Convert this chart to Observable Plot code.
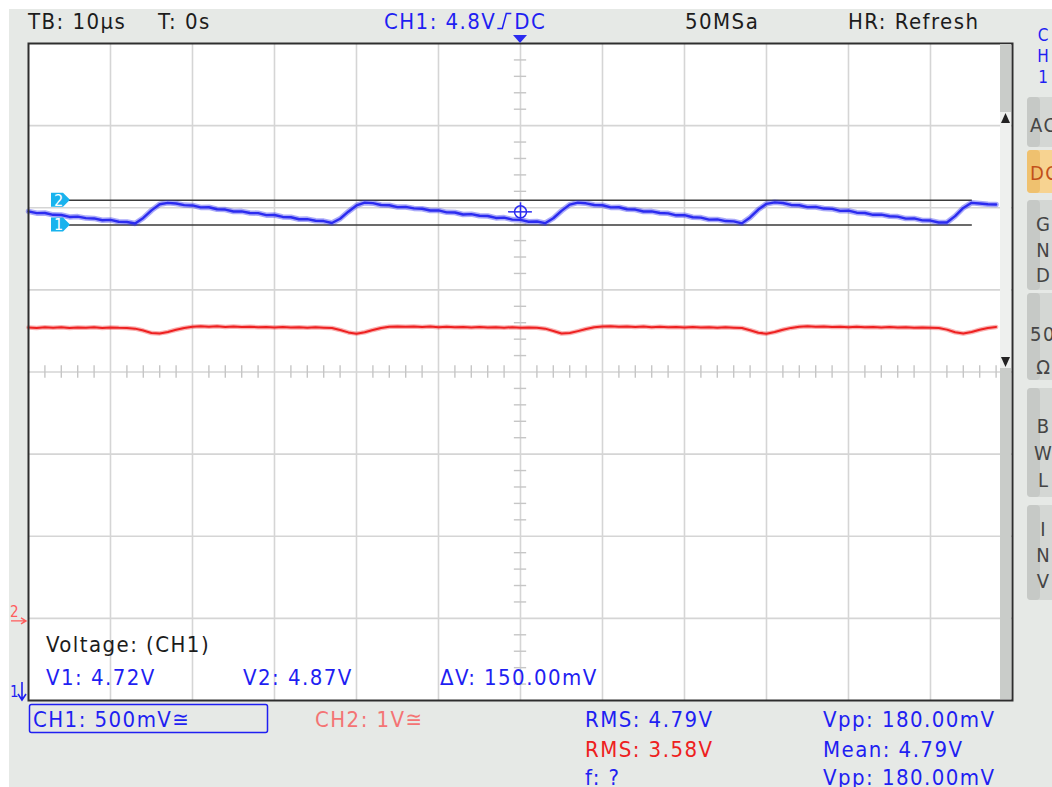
<!DOCTYPE html>
<html><head><meta charset="utf-8">
<script src="https://cdn.jsdelivr.net/npm/d3@7"></script>
<script src="https://cdn.jsdelivr.net/npm/@observablehq/plot@0.6"></script>
<style>
html,body{margin:0;padding:0;background:#fff;}
#scope{position:relative;width:1052px;height:787px;overflow:hidden;background:#fff;}
#panel{position:absolute;left:9px;top:9px;right:0;bottom:0;background:#e6e9e6;}
#scope svg{position:absolute;left:0;top:0;}
</style></head><body><div id="scope"><div id="panel"></div></div>
<script>
// ---- data ----
const sampleTimesUs = [-60,-59,-58,-57,-56,-55,-54,-53,-52,-51,-50,-49,-48,-47,-46,-45,-44,-43,-42,-41,-40,-39,-38,-37,-36,-35,-34,-33,-32,-31,-30,-29,-28,-27,-26,-25,-24,-23,-22,-21,-20,-19,-18,-17,-16,-15,-14,-13,-12,-11,-10,-9,-8,-7,-6,-5,-4,-3,-2,-1,0,1,2,3,4,5,6,7,8,9,10,11,12,13,14,15,16,17,18,19,20,21,22,23,24,25,26,27,28,29,30,31,32,33,34,35,36,37,38,39,40,41,42,43,44,45,46,47,48,49,50,51,52,53,54,55,56,57,58];
const ch1Volts = [4.803,4.792,4.793,4.782,4.781,4.769,4.771,4.762,4.760,4.749,4.751,4.740,4.738,4.729,
 4.763,4.809,4.846,4.855,
 4.851,4.841,4.839,4.827,4.828,4.816,4.814,4.802,4.803,4.793,4.792,4.780,4.781,4.769,4.767,4.755,4.756,4.746,4.744,4.732,
 4.758,4.801,4.839,4.856,
 4.853,4.842,4.840,4.829,4.830,4.821,4.819,4.808,4.809,4.797,4.796,4.784,4.786,4.776,4.775,4.763,4.765,4.753,4.751,4.740,4.741,4.731,
 4.761,4.806,4.844,4.856,
 4.852,4.842,4.840,4.827,4.828,4.816,4.814,4.802,4.803,4.793,4.791,4.779,4.780,4.767,4.765,4.753,4.754,4.744,4.742,4.730,
 4.766,4.814,4.849,4.858,
 4.854,4.842,4.840,4.829,4.830,4.820,4.818,4.806,4.807,4.795,4.793,4.782,4.783,4.773,4.771,4.759,4.760,4.748,4.747,4.735,4.735,
 4.774,4.824,4.855,4.851,4.846,4.845];
const ch2Volts = [3.543,3.537,3.545,3.539,3.544,3.536,3.543,3.540,3.545,3.537,3.542,3.538,3.537,3.528,3.505,3.474,3.470,3.488,3.515,3.536,3.551,3.556,
 3.551,3.556,3.549,3.553,3.547,3.551,3.545,3.549,3.543,3.547,3.541,3.546,3.540,3.544,3.539,3.535,3.512,3.482,3.467,3.484,3.512,3.536,3.550,3.555,
 3.550,3.555,3.548,3.553,3.546,3.551,3.545,3.549,3.543,3.548,3.541,3.546,3.540,3.545,3.539,3.543,3.538,3.528,3.500,3.469,3.474,3.498,3.524,3.544,3.553,
 3.556,3.550,3.555,3.548,3.553,3.546,3.551,3.545,3.549,3.543,3.548,3.541,3.546,3.540,3.544,3.539,3.536,3.508,3.478,3.467,3.486,3.514,3.537,3.551,
 3.556,3.550,3.554,3.548,3.552,3.546,3.550,3.544,3.548,3.542,3.547,3.541,3.545,3.539,3.543,3.540,3.537,3.516,3.484,3.469,3.486,3.514,3.535,3.549];

const ch1CenterVolts = 3.825, ch1VoltsPerDiv = 0.5;
const ch2GroundDiv = -3, ch2VoltsPerDiv = 1;
const timeWindowUs = [-60, 60];
const screenDivs = [-4, 4];
const cursorV1 = 4.72, cursorV2 = 4.87;
const cursorSpanUs = [-55, 55.1];
const triggerTimeUs = 0, triggerLevelV = 4.8;
const xGridUs = [-50,-40,-30,-20,-10,0,10,20,30,40,50];
const yGridDiv = [-3,-2,-1,0,1,2,3];

const headerLabels = ["TB: 10µs", "T: 0s", "CH1: " + triggerLevelV + "V", "DC", "50MSa", "HR: Refresh"];
const cursorTitle = "Voltage: (CH1)";
const ch1ScaleLabel = "CH1: 500mV≅", ch2ScaleLabel = "CH2: 1V≅";
const measureCol1 = ["RMS: 4.79V", "RMS: 3.58V", "f: ?"];
const measureCol2 = ["Vpp: 180.00mV", "Mean: 4.79V", "Vpp: 180.00mV"];
const sideTitle = ["C", "H", "1"];
const sideButtons = [["AC"], ["DC"], ["G","N","D"], ["50","Ω"], ["B","W","L"], ["I","N","V"]];

// ---- helpers ----
const toDiv1 = v => (v - ch1CenterVolts) / ch1VoltsPerDiv;
const toDiv2 = v => v / ch2VoltsPerDiv + ch2GroundDiv;
const ch1 = sampleTimesUs.map((t, i) => ({t, d: toDiv1(ch1Volts[i])}));
const ch2 = sampleTimesUs.map((t, i) => ({t, d: toDiv2(ch2Volts[i])}));
const minorX = d3.range(-29, 30).filter(i => i % 5 !== 0).map(i => i * 2);
const minorY = d3.range(-19, 20).filter(i => i % 5 !== 0).map(i => i / 5);
const trig = {t: triggerTimeUs, d: toDiv1(triggerLevelV)};

const BLUE = "#2b2bf0", RED = "#ee2020", TXTBLUE = "#1f1ff2";

const plot = Plot.plot({
  width: 1052, height: 787,
  marginLeft: 28, marginRight: 40, marginTop: 43, marginBottom: 87,
  x: {domain: timeWindowUs, axis: null},
  y: {domain: screenDivs, axis: null},
  style: {background: "transparent", overflow: "visible"},
  marks: [
    Plot.frame({fill: "#ffffff", stroke: null}),
    Plot.ruleX(xGridUs, {stroke: "#d5d5d5", strokeWidth: 1.6}),
    Plot.ruleY(yGridDiv, {stroke: "#d5d5d5", strokeWidth: 1.6}),
    Plot.ruleX(minorX, {y1: -0.075, y2: 0.075, stroke: "#c6c6c6", strokeWidth: 1.4}),
    Plot.ruleY(minorY, {x1: -0.75, x2: 0.75, stroke: "#c6c6c6", strokeWidth: 1.4}),
    Plot.ruleY([cursorV1, cursorV2].map(toDiv1), {x1: cursorSpanUs[0], x2: cursorSpanUs[1], stroke: "#3a3a3a", strokeWidth: 1.5}),
    Plot.line(ch2, {x: "t", y: "d", stroke: RED, strokeWidth: 4.5, strokeOpacity: 0.35}),
    Plot.line(ch2, {x: "t", y: "d", stroke: RED, strokeWidth: 2}),
    Plot.line(ch1, {x: "t", y: "d", stroke: BLUE, strokeWidth: 5.5, strokeOpacity: 0.4}),
    Plot.line(ch1, {x: "t", y: "d", stroke: BLUE, strokeWidth: 2.4}),
    Plot.dot([trig], {x: "t", y: "d", r: 6, stroke: BLUE, strokeWidth: 1.5, fill: "none"}),
    Plot.ruleX([trig], {x: "t", y1: d => d.d - 0.11, y2: d => d.d + 0.11, stroke: BLUE, strokeWidth: 1.5}),
    Plot.ruleY([trig], {y: "d", x1: d => d.t - 1.45, x2: d => d.t + 1.45, stroke: BLUE, strokeWidth: 1.5}),
    Plot.frame({stroke: "#2e2e2e", strokeWidth: 2})
  ]
});
document.getElementById("scope").appendChild(plot);

const sx = plot.scale("x"), sy = plot.scale("y");
const FONT = '"DejaVu Sans Condensed", "DejaVu Sans", sans-serif';
const LS = 1.45;
const ov = d3.select("#scope").append("svg").attr("width", 1052).attr("height", 787)
  .style("font-family", FONT).style("pointer-events", "none");

function label(x, y, text, color, size = 22, ls = LS, anchor = "start") {
  return ov.append("text").attr("x", x).attr("y", y).attr("fill", color).attr("text-anchor", anchor)
    .style("font-size", size + "px").style("letter-spacing", ls + "px").text(text);
}

// right-side scroll strip inside the screen
const right = sx.range[1];
ov.append("rect").attr("x", right - 12).attr("y", sy.range[1] + 1).attr("width", 11).attr("height", sy.range[0] - sy.range[1] - 2).attr("fill", "#c9ccc9");
ov.append("rect").attr("x", right - 12).attr("y", 112).attr("width", 11).attr("height", 256).attr("fill", "#eef0ee");
ov.append("path").attr("d", `M${right-11},123 L${right-2},123 L${right-6.5},113 Z`).attr("fill", "#222");
ov.append("path").attr("d", `M${right-11},357 L${right-2},357 L${right-6.5},367 Z`).attr("fill", "#222");

// trigger position marker
const tx = sx.apply(triggerTimeUs);
ov.append("path").attr("d", `M${tx-7},35 L${tx+7},35 L${tx},43 Z`).attr("fill", BLUE);

// header
const headerX = [28, 158, 384, null, 685, 848];
let chEnd = 0;
headerLabels.forEach((s, i) => {
  if (i === 3) return;
  const el = label(headerX[i], 29, s, i === 2 ? TXTBLUE : "#1c1c1c");
  if (i === 2) chEnd = headerX[i] + el.node().getComputedTextLength();
});
ov.append("path").attr("d", `M${chEnd+1},28.5 h5 l4,-15 h5`).attr("fill", "none").attr("stroke", TXTBLUE).attr("stroke-width", 1.5);
label(chEnd + 18, 29, headerLabels[3], TXTBLUE);

// cursor tags
[[cursorV2, "2"], [cursorV1, "1"]].forEach(([v, n]) => {
  const y = sy.apply(toDiv1(v));
  ov.append("path").attr("d", `M51,${y-7} L63,${y-7} L70,${y} L63,${y+7} L51,${y+7} Z`).attr("fill", "#19b3ee");
  label(54, y + 6, n, "#ffffff", 16, 0);
});

// channel ground markers at the left
const g2 = sy.apply(ch2GroundDiv);
label(10, g2 - 1, "2", "#ff5c5c", 15, 0);
ov.append("path").attr("d", `M11,${g2+3} h14 M21,${g2} l5,3 l-5,3`).attr("fill", "none").attr("stroke", "#ff5c5c").attr("stroke-width", 1.4);
label(10, 697, "1", TXTBLUE, 15, 0);
ov.append("path").attr("d", "M22,682 v17 M18,694 l4,6 l4,-6").attr("fill", "none").attr("stroke", TXTBLUE).attr("stroke-width", 1.6);

// cursor readout inside screen
label(46, 652, cursorTitle, "#1c1c1c");
label(46, 685, `V1: ${cursorV1.toFixed(2)}V`, TXTBLUE);
label(243, 685, `V2: ${cursorV2.toFixed(2)}V`, TXTBLUE);
label(440, 685, `ΔV: ${((cursorV2 - cursorV1) * 1000).toFixed(2)}mV`, TXTBLUE);

// bottom readouts
ov.append("rect").attr("x", 29.5).attr("y", 704.5).attr("width", 238).attr("height", 28).attr("rx", 2)
  .attr("fill", "none").attr("stroke", TXTBLUE).attr("stroke-width", 1.5);
label(33, 727, ch1ScaleLabel, TXTBLUE);
label(315, 727, ch2ScaleLabel, "#f47474");
const rowY = [727, 757, 785];
measureCol1.forEach((s, i) => label(585, rowY[i], s, i === 1 ? RED : TXTBLUE));
measureCol2.forEach((s, i) => label(823, rowY[i], s, TXTBLUE));

// right side channel menu
sideTitle.forEach((s, i) => label(1043, [41, 62, 83][i], s, TXTBLUE, 17, 0, "middle"));
const btnBox = [[97, 147], [150, 193], [200, 290], [293, 380], [388, 497], [505, 600]];
const btnBase = [[132], [180], [231, 257, 282], [341, 374], [433, 460, 487], [536, 562, 588]];
sideButtons.forEach((lines, i) => {
  const [y0, y1] = btnBox[i];
  const active = i === 1;
  ov.append("rect").attr("x", 1027).attr("y", y0).attr("width", 40).attr("height", y1 - y0).attr("rx", 4)
    .attr("fill", active ? "#f7d391" : "#d4d7d4");
  ov.append("rect").attr("x", 1027).attr("y", y0).attr("width", 13).attr("height", y1 - y0).attr("rx", 4)
    .attr("fill", active ? "#efc16f" : "#c6c9c6");
  lines.forEach((s, j) => {
    if (s.length > 1) label(1030, btnBase[i][j], s, active ? "#c2501a" : "#454545", 20, 1.5);
    else label(1043, btnBase[i][j], s, "#454545", 20, 0, "middle");
  });
});
</script></body></html>
